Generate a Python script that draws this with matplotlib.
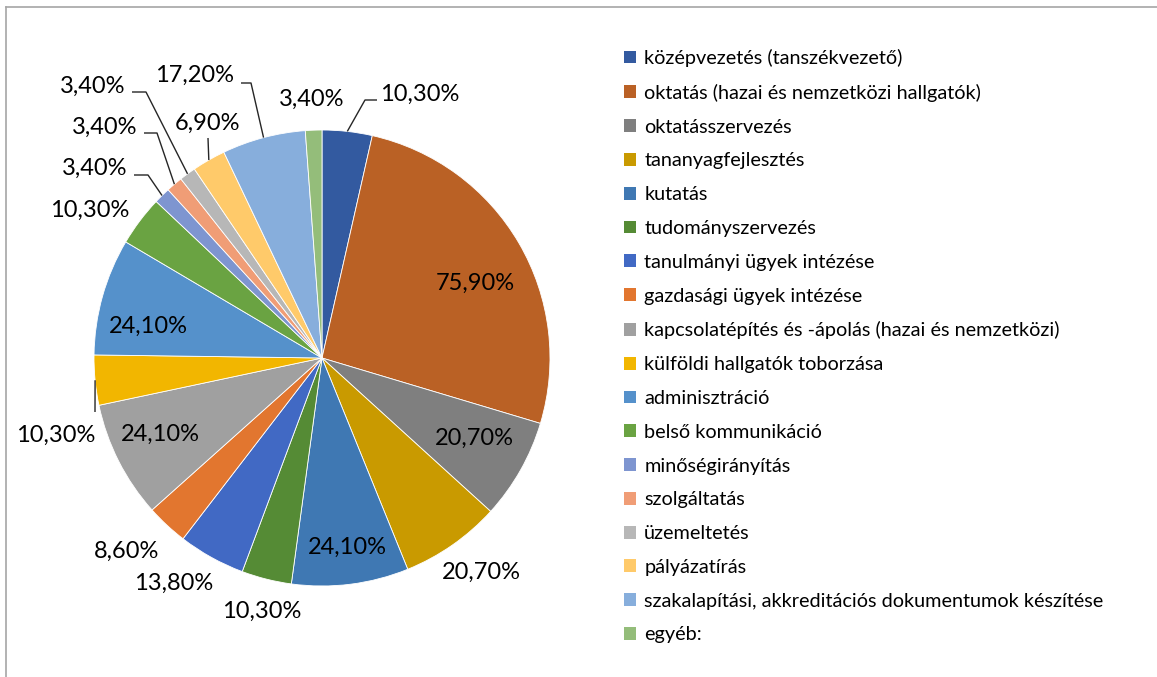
import numpy as np
import matplotlib
matplotlib.use("Agg")
import matplotlib.pyplot as plt
from matplotlib.patches import Patch

# categories and values (percent of respondents)
categories = [
    "középvezetés (tanszékvezető)",
    "oktatás (hazai és nemzetközi hallgatók)",
    "oktatásszervezés",
    "tananyagfejlesztés",
    "kutatás",
    "tudományszervezés",
    "tanulmányi ügyek intézése",
    "gazdasági ügyek intézése",
    "kapcsolatépítés és -ápolás (hazai és nemzetközi)",
    "külföldi hallgatók toborzása",
    "adminisztráció",
    "belső kommunikáció",
    "minőségirányítás",
    "szolgáltatás",
    "üzemeltetés",
    "pályázatírás",
    "szakalapítási, akkreditációs dokumentumok készítése",
    "egyéb:",
]
values = [10.3, 75.9, 20.7, 20.7, 24.1, 10.3, 13.8, 8.6, 24.1,
          10.3, 24.1, 10.3, 3.4, 3.4, 3.4, 6.9, 17.2, 3.4]

colors = ["#335AA0", "#BA6125", "#7F7F7F", "#C99A00", "#3F78B3", "#558B35",
          "#4169C4", "#E2762F", "#A0A0A0", "#F2B600", "#5591CB", "#6AA342",
          "#7E95D0", "#F09D76", "#B7B7B7", "#FFCA6A", "#87AEDC", "#94BD7A"]

# layout (pixels in a 1157x677 canvas)
W, H = 1157, 677
CX, CY, R = 322, 358, 228

# label centres
label_pos = {
    0: (420, 94), 1: (475, 283), 2: (474, 438), 3: (481, 572),
    4: (347, 547), 5: (262, 611), 6: (174, 583), 7: (127, 551),
    8: (160, 434), 9: (56, 435), 10: (148, 326), 11: (90, 210),
    12: (95, 168), 13: (105, 127), 14: (93, 86), 15: (208, 123),
    16: (195, 75), 17: (312, 99),
}
# leader lines: points after the rim anchor
leaders = {
    0: [(365, 100), (377, 100)],
    9: [(95, 412)],
    12: [(148, 175), (134, 175)],
    13: [(157, 133), (144, 133)],
    14: [(146, 92), (132, 92)],
    15: [(208, 138)],
    16: [(251, 83), (241, 83)],
}

plt.rcParams["font.family"] = ["Lato", "DejaVu Sans"]

fig = plt.figure(figsize=(W / 100, H / 100), dpi=100)
ax = fig.add_axes([0, 0, 1, 1])


def px(x, y):
    return (x - CX) / R, (CY - y) / R


wedges, _ = ax.pie(values, colors=colors, startangle=90, counterclock=False,
                   radius=1.0, wedgeprops=dict(edgecolor="white", linewidth=0.6))
ax.set_xlim(-CX / R, (W - CX) / R)
ax.set_ylim(-(H - CY) / R, CY / R)
ax.set_aspect("equal")
ax.axis("off")

total = sum(values)
cum = np.cumsum([0] + values[:-1])
for i, v in enumerate(values):
    lab = f"{v:.2f}%".replace(".", ",")
    x, y = px(*label_pos[i])
    ax.text(x, y, lab, fontsize=17, ha="center", va="center", color="#000000")
    if i in leaders:
        mid = np.deg2rad(90 - (cum[i] + v / 2) / total * 360)
        pts = [(np.cos(mid), np.sin(mid))] + [px(*p) for p in leaders[i]]
        xs, ys = zip(*pts)
        ax.plot(xs, ys, color="#262626", lw=1.0, solid_capstyle="butt")

handles = [Patch(facecolor=c, edgecolor="none") for c in colors]
fig.legend(handles, categories, loc="upper left", bbox_to_anchor=(616 / W, 1 - 41 / H),
           frameon=False, fontsize=14.3, handlelength=0.62, handleheight=0.62,
           handletextpad=0.4, labelspacing=0.845, borderaxespad=0)

# outer frame (only top and left edges visible)
fig.add_artist(plt.Line2D([6 / W, 1], [1 - 7 / H, 1 - 7 / H], color="#A6A6A6", lw=1.2))
fig.add_artist(plt.Line2D([6 / W, 6 / W], [0, 1 - 7 / H], color="#A6A6A6", lw=1.2))

fig.savefig("out.png", dpi=100)
